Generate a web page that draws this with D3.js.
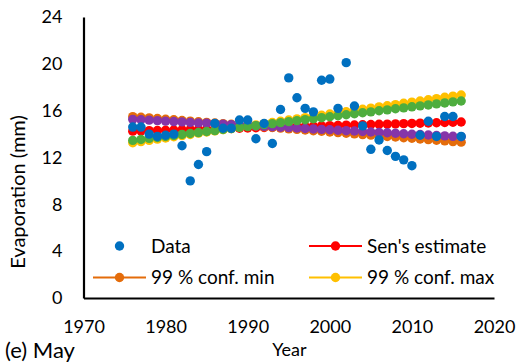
<!DOCTYPE html>
<html>
<head>
<meta charset="utf-8">
<script src="https://cdn.jsdelivr.net/npm/d3@7"></script>
<style>
  body { margin: 0; background: white; }
  text { font-family: Lato, sans-serif; fill: #000; }
</style>
</head>
<body>
<svg id="chart" width="519" height="363"></svg>
<script>
var years = d3.range(1976, 2017);
var evaporation = [14.6, 14.6, 14.0, 13.8, 13.9, 14.0, 13.0, 10.0, 11.4, 12.5,
                   14.9, 14.5, 14.5, 15.2, 15.2, 13.6, 14.9, 13.2, 16.1, 18.8,
                   17.1, 16.2, 15.9, 18.6, 18.7, 16.2, 20.1, 16.4, 14.7, 12.7,
                   13.5, 12.6, 12.1, 11.8, 11.3, 13.9, 15.1, 13.8, 15.5, 15.5, 13.8];
var sens_estimate = [14.25, 14.27, 14.29, 14.31, 14.33, 14.35, 14.37, 14.39, 14.41, 14.43,
                     14.45, 14.46, 14.48, 14.50, 14.52, 14.54, 14.56, 14.58, 14.60, 14.62,
                     14.64, 14.66, 14.68, 14.70, 14.72, 14.74, 14.76, 14.78, 14.80, 14.82,
                     14.84, 14.85, 14.87, 14.89, 14.91, 14.93, 14.95, 14.97, 14.99, 15.01, 15.03];
var conf99_min = [15.49, 15.44, 15.38, 15.33, 15.27, 15.22, 15.16, 15.11, 15.05, 15.00,
                  14.95, 14.89, 14.84, 14.78, 14.73, 14.67, 14.62, 14.56, 14.51, 14.45,
                  14.40, 14.35, 14.29, 14.24, 14.18, 14.13, 14.07, 14.02, 13.96, 13.91,
                  13.86, 13.80, 13.75, 13.69, 13.64, 13.58, 13.53, 13.47, 13.42, 13.36, 13.31];
var conf95_min = [15.26, 15.22, 15.19, 15.15, 15.11, 15.07, 15.04, 15.00, 14.96, 14.93,
                  14.89, 14.85, 14.81, 14.78, 14.74, 14.70, 14.66, 14.63, 14.59, 14.55,
                  14.52, 14.48, 14.44, 14.40, 14.37, 14.33, 14.29, 14.26, 14.22, 14.18,
                  14.14, 14.11, 14.07, 14.03, 13.99, 13.96, 13.92, 13.88, 13.85, 13.81, 13.77];
var conf99_max = [13.26, 13.36, 13.46, 13.57, 13.67, 13.77, 13.87, 13.97, 14.08, 14.18,
                  14.28, 14.38, 14.48, 14.59, 14.69, 14.79, 14.89, 14.99, 15.10, 15.20,
                  15.30, 15.40, 15.50, 15.61, 15.71, 15.81, 15.91, 16.01, 16.12, 16.22,
                  16.32, 16.42, 16.52, 16.63, 16.73, 16.83, 16.93, 17.03, 17.14, 17.24, 17.34];
var conf95_max = [13.46, 13.54, 13.63, 13.71, 13.80, 13.88, 13.97, 14.05, 14.13, 14.22,
                  14.30, 14.39, 14.47, 14.56, 14.64, 14.72, 14.81, 14.89, 14.98, 15.06,
                  15.15, 15.23, 15.31, 15.40, 15.48, 15.57, 15.65, 15.74, 15.82, 15.90,
                  15.99, 16.07, 16.16, 16.24, 16.33, 16.41, 16.49, 16.58, 16.66, 16.75, 16.83];
var x_ticks = [1970, 1980, 1990, 2000, 2010, 2020];
var y_ticks = [0, 4, 8, 12, 16, 20, 24];

var svg = d3.select('#chart');

var x_scale = d3.scaleLinear().domain([1970, 2020]).range([83.5, 494]);
var y_scale = d3.scaleLinear().domain([0, 24]).range([298, 17]);

// trend lines, drawn in the order Excel stacks them
var trend_series = [
    {values: sens_estimate, color: '#FF0000'},
    {values: conf99_min, color: '#E46C0A'},
    {values: conf99_max, color: '#FFC000'},
    {values: conf95_min, color: '#8535A8'},
    {values: conf95_max, color: '#4EAD3E'}
];

var line = d3.line()
    .x(function(d, i){ return x_scale(years[i]); })
    .y(function(d){ return y_scale(d); });

trend_series.forEach(function(s){
    var g = svg.append('g');
    g.append('path')
        .attr('d', line(s.values))
        .attr('fill', 'none')
        .attr('stroke', s.color)
        .attr('stroke-width', 2);
    g.selectAll('circle')
        .data(s.values)
        .enter()
        .append('circle')
        .attr('cx', function(d, i){ return x_scale(years[i]); })
        .attr('cy', function(d){ return y_scale(d); })
        .attr('r', 4.7)
        .attr('fill', s.color);
});

svg.append('g').selectAll('circle')
    .data(evaporation)
    .enter()
    .append('circle')
    .attr('cx', function(d, i){ return x_scale(years[i]); })
    .attr('cy', function(d){ return y_scale(d); })
    .attr('r', 4.7)
    .attr('fill', '#0070C0');

// axes
var x_axis = d3.axisBottom(x_scale).tickValues(x_ticks).tickFormat(d3.format('d'))
    .tickSize(0).tickPadding(22);
var y_axis = d3.axisLeft(y_scale).tickValues(y_ticks).tickSize(0).tickPadding(21);

svg.append('g').attr('class', 'x_axis').attr('transform', 'translate(0,298)').call(x_axis);
svg.append('g').attr('class', 'y_axis').attr('transform', 'translate(83.5,0)').call(y_axis);
svg.selectAll('.domain').attr('stroke', '#000').attr('stroke-width', 2.2);
svg.selectAll('.tick text').style('font-size', '18px').style('font-family', 'Lato');

// legend
var legend_items = [
    {label: 'Data', color: '#0070C0', line: false, x: 93, y: 246},
    {label: "Sen's estimate", color: '#FF0000', line: true, x: 309, y: 246},
    {label: '99 % conf. min', color: '#E46C0A', line: true, x: 93, y: 277.5},
    {label: '99 % conf. max', color: '#FFC000', line: true, x: 309, y: 277.5}
];

var legend = svg.append('g').selectAll('g')
    .data(legend_items)
    .enter()
    .append('g')
    .attr('transform', function(d){ return 'translate(' + d.x + ',' + d.y + ')'; });

legend.filter(function(d){ return d.line; })
    .append('line')
    .attr('x1', 0).attr('x2', 53)
    .attr('stroke', function(d){ return d.color; })
    .attr('stroke-width', 2);
legend.append('circle')
    .attr('cx', 26.5)
    .attr('r', 4.7)
    .attr('fill', function(d){ return d.color; });
legend.append('text')
    .attr('x', 58)
    .attr('dy', '0.36em')
    .style('font-size', '19px')
    .text(function(d){ return d.label; });

// titles
svg.append('text')
    .attr('transform', 'translate(25,192) rotate(-90)')
    .attr('text-anchor', 'middle')
    .style('font-size', '20px')
    .text('Evaporation (mm)');
svg.append('text')
    .attr('x', 289.5).attr('y', 356)
    .attr('text-anchor', 'middle')
    .style('font-size', '18px')
    .text('Year');
svg.append('text')
    .attr('x', 5).attr('y', 358)
    .style('font-size', '22px')
    .text('(e) May');
</script>
</body>
</html>
